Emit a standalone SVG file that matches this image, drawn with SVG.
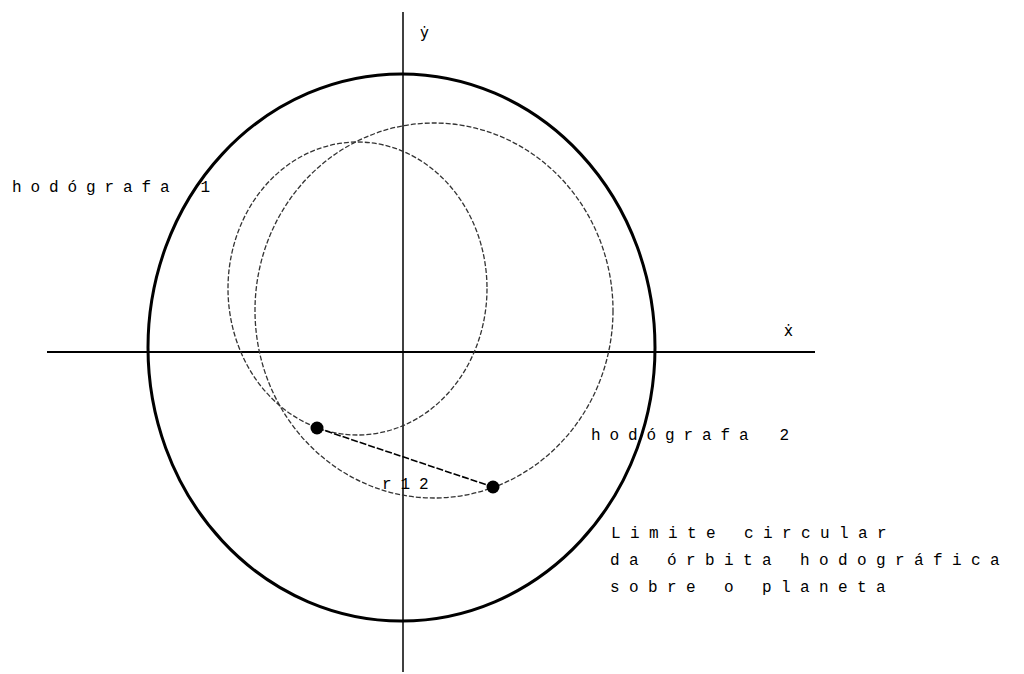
<svg xmlns="http://www.w3.org/2000/svg" width="1024" height="674" viewBox="0 0 1024 674">
<style>
  .axis { stroke: #000; fill: none; }
  .hodo { stroke: #333; stroke-width: 1.3; fill: none; stroke-dasharray: 5 2; }
  .limit { stroke: #000; stroke-width: 3; fill: none; }
  .lbl { font-family: "Liberation Mono", "DejaVu Sans Mono", monospace; font-size: 16px; fill: #000; letter-spacing: 8.9px; }
  .lbl2 { font-family: "Liberation Mono", "DejaVu Sans Mono", monospace; font-size: 16px; fill: #000; letter-spacing: 9.4px; }
  .ax { font-family: "DejaVu Sans", "Liberation Sans", sans-serif; font-size: 15px; fill: #000; }
  .dot { fill: #000; }
</style>
<rect width="1024" height="674" fill="#fff"/>
<g id="axes">
  <line class="axis" x1="47" y1="352" x2="815" y2="352" stroke-width="2"/>
  <line class="axis" x1="403" y1="12" x2="403" y2="672" stroke-width="1.5"/>
  <text class="ax" x="420" y="38">ẏ</text>
  <text class="ax" x="784" y="336">ẋ</text>
</g>
<g id="limite">
  <ellipse class="limit" cx="401.5" cy="347.5" rx="253.5" ry="273.5"/>
  <text class="lbl2" x="611" y="538">Limite circular</text>
  <text class="lbl2" x="610" y="565">da órbita hodográfica</text>
  <text class="lbl2" x="610" y="592">sobre o planeta</text>
</g>
<g id="hodografa1">
  <ellipse class="hodo" cx="357.5" cy="288.5" rx="129.5" ry="146.5"/>
  <text class="lbl" x="12" y="192">hodógrafa<tspan dx="22">1</tspan></text>
</g>
<g id="hodografa2">
  <ellipse class="hodo" cx="434" cy="310.5" rx="179" ry="187.5"/>
  <text class="lbl" x="591" y="440">hodógrafa<tspan dx="22">2</tspan></text>
</g>
<g id="connectors">
  <line x1="317" y1="428" x2="493" y2="487" stroke="#000" stroke-width="1.6" stroke-dasharray="7 2"/>
  <text class="lbl" x="382" y="489" letter-spacing="8">r12</text>
</g>
<g id="p1"><circle class="dot" cx="317" cy="428" r="6.5"/></g>
<g id="p2"><circle class="dot" cx="493" cy="487" r="6.5"/></g>
</svg>
